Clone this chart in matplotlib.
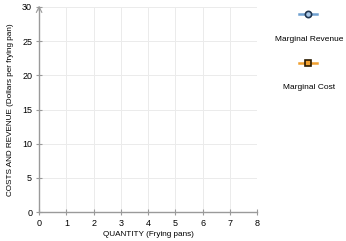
import matplotlib
matplotlib.use("Agg")
import matplotlib.pyplot as plt
from matplotlib.lines import Line2D

plt.rcParams['font.family'] = ['Liberation Sans', 'DejaVu Sans']

# empty graph: axis ranges and (blank) series
x_ticks = [0, 1, 2, 3, 4, 5, 6, 7, 8]
y_ticks = [0, 5, 10, 15, 20, 25, 30]
mr_qty, mr_val = [], []
mc_qty, mc_val = [], []
series_names = ['Marginal Revenue', 'Marginal Cost']

axis_col = '#9a9a9a'
grid_col = '#ebebeb'

fig = plt.figure(figsize=(3.46, 2.41), dpi=100)
ax = fig.add_axes([0.113, 0.12, 0.63, 0.851])

ax.plot(mr_qty, mr_val, color='#6fa0d0', marker='o')
ax.plot(mc_qty, mc_val, color='#f0a030', marker='s')

ax.set_xlim(0, 8)
ax.set_ylim(0, 30)
ax.set_xticks(x_ticks)
ax.set_yticks(y_ticks)
ax.grid(True, color=grid_col, lw=0.7)
ax.set_axisbelow(True)

for s in ['top', 'right']:
    ax.spines[s].set_visible(False)
for s in ['left', 'bottom']:
    ax.spines[s].set_color(axis_col)
    ax.spines[s].set_linewidth(1.0)

ax.tick_params(axis='both', direction='inout', length=4, width=0.8,
               color=axis_col, labelsize=6.5, pad=3)

# little arrow at top of y axis
ax.annotate('', xy=(0, 1.02), xycoords='axes fraction', xytext=(0, 0.97),
            arrowprops=dict(arrowstyle='->', color=axis_col, lw=0.8),
            annotation_clip=False)

ax.set_xlabel('QUANTITY (Frying pans)', fontsize=5.9, labelpad=2)
ax.set_ylabel('COSTS AND REVENUE (Dollars per frying pan)', fontsize=5.9, labelpad=6)

# legend on the right: icon above its label
lax = fig.add_axes([0.78, 0.55, 0.22, 0.45])
lax.set_xlim(0, 1)
lax.set_ylim(0, 1)
lax.axis('off')
styles = [dict(color='#6fa0d0', marker='o', mfc='#a8c8e8', mec='#1f3550'),
          dict(color='#f0a030', marker='s', mfc='#f0a030', mec='#2a1a00')]
rows = [0.87, 0.42]
for name, st, yy in zip(series_names, styles, rows):
    lax.add_line(Line2D([0.38, 0.62], [yy, yy], lw=1.8, color=st['color']))
    lax.add_line(Line2D([0.5], [yy], marker=st['marker'], ms=4.5, mew=1.2,
                        mfc=st['mfc'], mec=st['mec'], lw=0))
    lax.text(0.52, yy - 0.23, name, ha='center', va='center', fontsize=6)

fig.savefig('out.png', dpi=100)
